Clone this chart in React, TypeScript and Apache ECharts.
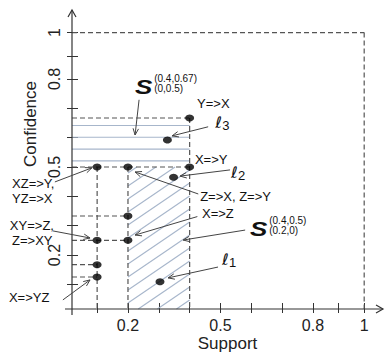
import { useEffect, useRef } from "react";
import * as echarts from "echarts";

// ---- axis extents (as drawn) ----
const X_MIN = 0.0185;
const X_MAX = 1.027;
const Y_MIN = 0.016;
const Y_MAX = 1.035;

// ---- association rules: support / confidence ----
const ruleSupport = [0.1, 0.2, 0.4, 0.4, 0.2, 0.2, 0.1, 0.1, 0.1];
const ruleConfidence = [0.5, 0.5, 0.5, 0.667, 0.333, 0.25, 0.25, 0.167, 0.125];

// ---- illustrative points l1, l2, l3 ----
const lSupport = [0.304, 0.348, 0.328];
const lConfidence = [0.109, 0.465, 0.592];

// ---- ticks & labels ----
const tickValues = [0.1, 0.2, 0.3, 0.4, 0.5, 0.6, 0.7, 0.8, 0.9, 1];
const labelValues = [0.2, 0.5, 0.8, 1];
const BOUND = 1;

// schematic axes: beyond 0.8 the drawn scale is compressed
const X_SQUEEZE = 0.83;
const Y_SQUEEZE = 0.79;
const dispX = (v: number) => (v <= 0.8 ? v : 0.8 + (v - 0.8) * X_SQUEEZE);
const dispY = (v: number) => (v <= 0.8 ? v : 0.8 + (v - 0.8) * Y_SQUEEZE);

// ---- shaded regions (support0, conf0, support1, conf1) ----
const regionFrom = [[0, 0.5], [0.2, 0]];
const regionTo = [[0.4, 0.667], [0.4, 0.5]];
const regionPattern = [0, 1]; // 0 = horizontal lines, 1 = diagonal hatch

// ---- text annotations (support, confidence of left-middle anchor) ----
const labelTexts = ["Y=>X", "X=>Y", "Z=>X, Z=>Y", "X=>Z", "XZ=>Y,", "YZ=>X", "XY=>Z,", "Z=>XY", "X=>YZ"];
const labelS = [0.424, 0.417, 0.434, 0.44, -0.176, -0.176, -0.183, -0.176, -0.186];
const labelC = [0.715, 0.527, 0.401, 0.343, 0.445, 0.394, 0.299, 0.251, 0.054];

// ell symbols
const ellDigits = ["1", "2", "3"];
const ellS = [0.505, 0.534, 0.483];
const ellC = [0.186, 0.48, 0.653];

// S region labels
const sSup = ["(0.4,0.67)", "(0.4,0.5)"];
const sSub = ["(0,0.5)", "(0.2,0)"];
const sS = [0.223, 0.596];
const sC = [0.773, 0.289];

// ---- arrows: from (s,c) to (s,c) ----
const arrowFrom = [
  [0.236, 0.729], [0.46, 0.637], [0.531, 0.49], [-0.037, 0.449], [0.428, 0.408],
  [0.425, 0.331], [-0.043, 0.282], [0.58, 0.285], [0.492, 0.159], [-0.011, 0.047],
];
const arrowTo = [
  [0.223, 0.609], [0.343, 0.606], [0.369, 0.469], [0.083, 0.497], [0.223, 0.483],
  [0.223, 0.268], [0.077, 0.258], [0.379, 0.251], [0.33, 0.122], [0.077, 0.115],
];

const FONT = "'Liberation Sans', Arial, sans-serif";
const DASH_COLOR = "#555";
const HATCH_COLOR = "#a7b6cb";

function buildGuides() {
  // horizontal guide for each confidence up to the largest support; vertical for each support from largest confidence
  const maxSAtC = new Map<number, number>();
  const maxCAtS = new Map<number, number>();
  ruleSupport.forEach((s, i) => {
    const c = ruleConfidence[i];
    maxSAtC.set(c, Math.max(maxSAtC.get(c) ?? -1, s));
    maxCAtS.set(s, Math.max(maxCAtS.get(s) ?? -1, c));
  });
  const segs: number[][] = [];
  maxSAtC.forEach((s, c) => segs.push([X_MIN, c, s, c]));
  maxCAtS.forEach((c, s) => segs.push([s, c, s, Y_MIN]));
  // boundary of the (0,0)-(1,1) square
  segs.push([X_MIN, dispY(BOUND), dispX(BOUND), dispY(BOUND)]);
  segs.push([dispX(BOUND), dispY(BOUND), dispX(BOUND), Y_MIN]);
  return segs;
}

export default function App() {
  const ref = useRef<HTMLDivElement>(null);

  useEffect(() => {
    if (!ref.current) return;
    const chart = echarts.init(ref.current, undefined, { renderer: "svg" });

    const xCustom = tickValues.map(dispX);
    const yCustom = tickValues.map(dispY);
    const xLab = labelValues.map(dispX);
    const yLab = labelValues.map(dispY);
    const fmtX = (v: number) => {
      const i = xLab.findIndex((d) => Math.abs(d - v) < 1e-6);
      return i >= 0 ? String(labelValues[i]) : "";
    };
    const fmtY = (v: number) => {
      const i = yLab.findIndex((d) => Math.abs(d - v) < 1e-6);
      return i >= 0 ? String(labelValues[i]) : "";
    };

    const textItems: any[] = [];
    labelTexts.forEach((t, i) =>
      textItems.push({ value: [labelS[i], labelC[i]], t, size: 13, style: "normal", fam: FONT })
    );
    ellDigits.forEach((d, i) => {
      textItems.push({ value: [ellS[i], ellC[i]], t: "ℓ", size: 16, style: "italic", fam: "'DejaVu Sans', sans-serif" });
      textItems.push({ value: [ellS[i] + 0.023, ellC[i] - 0.01], t: d, size: 13, style: "normal", fam: FONT });
    });
    sSup.forEach((sup, i) => {
      textItems.push({ value: [sS[i], sC[i]], t: "S", size: 20, style: "italic", fam: FONT, scaleX: 1.3, weight: "bold" });
      textItems.push({ value: [sS[i] + 0.062, sC[i] + 0.029], t: sup, size: 10, style: "normal", fam: FONT });
      textItems.push({ value: [sS[i] + 0.062, sC[i] - 0.004], t: sSub[i], size: 10, style: "normal", fam: FONT });
    });

    const axisCommon = {
      type: "value" as const,
      axisLine: { show: false },
      splitLine: { show: false },
    };

    chart.setOption({
      animation: false,
      backgroundColor: "#fff",
      grid: { left: 72, right: 2, top: 10, bottom: 44, containLabel: false, outerBoundsMode: "none" },
      xAxis: [
        {
          ...axisCommon,
          min: X_MIN,
          max: X_MAX,
          position: "bottom",
          name: "Support",
          nameLocation: "middle",
          nameGap: 26,
          nameMoveOverlap: false,
          nameTextStyle: { fontSize: 17, fontFamily: FONT, color: "#222" },
          axisTick: { show: true, length: 4, customValues: xCustom, lineStyle: { color: "#333" } },
          axisLabel: { customValues: xLab, formatter: fmtX, fontSize: 16, fontFamily: FONT, color: "#222", margin: 8 },
        },
        {
          ...axisCommon,
          min: X_MIN,
          max: X_MAX,
          position: "bottom",
          offset: 0,
          axisTick: { show: true, inside: true, length: 6, customValues: xCustom, lineStyle: { color: "#333" } },
          axisLabel: { show: false },
        },
      ],
      yAxis: [
        {
          ...axisCommon,
          min: Y_MIN,
          max: Y_MAX,
          position: "left",
          axisTick: { show: true, length: 5, customValues: yCustom, lineStyle: { color: "#333" } },
          axisLabel: { customValues: yLab, formatter: fmtY, rotate: 90, fontSize: 16, fontFamily: FONT, color: "#222", margin: 10 },
        },
        {
          ...axisCommon,
          min: Y_MIN,
          max: Y_MAX,
          position: "left",
          offset: 0,
          axisTick: { show: true, inside: true, length: 6, customValues: yCustom, lineStyle: { color: "#333" } },
          axisLabel: { show: false },
        },
      ],
      graphic: [
        {
          type: "text",
          x: 30,
          y: 124,
          rotation: Math.PI / 2,
          style: { text: "Confidence", fontSize: 17, fontFamily: FONT, fill: "#222", align: "center", verticalAlign: "middle" },
        },
      ],
      series: [
        // shaded regions
        {
          type: "custom",
          coordinateSystem: "cartesian2d",
          silent: true,
          z: 1,
          data: regionFrom.map((f, i) => [f[0], f[1], regionTo[i][0], regionTo[i][1], regionPattern[i]]),
          renderItem: (_p: any, api: any) => {
            const s0 = Math.max(api.value(0), X_MIN);
            const c0 = Math.max(api.value(1), Y_MIN);
            const s1 = api.value(2);
            const c1 = api.value(3);
            const pat = api.value(4);
            const a = api.coord([s0, c1]);
            const b = api.coord([s1, c0]);
            const x0 = a[0], y0 = a[1], x1 = b[0], y1 = b[1];
            const children: any[] = [];
            const st = { stroke: HATCH_COLOR, lineWidth: 1.1 };
            if (pat === 0) {
              for (let y = y0 + 7.5; y < y1 - 3; y += 11.8) {
                children.push({ type: "line", shape: { x1: x0, y1: y, x2: x1, y2: y }, style: st });
              }
            } else {
              const k = 0.68;
              const w = x1 - x0;
              for (let bb = y0 + 6; bb < y1 + k * w; bb += 13) {
                const xa = Math.max(x0, x0 + (bb - y1) / k);
                const xb = Math.min(x1, x0 + (bb - y0) / k);
                if (xa < xb) {
                  children.push({
                    type: "line",
                    shape: { x1: xa, y1: bb - k * (xa - x0), x2: xb, y2: bb - k * (xb - x0) },
                    style: st,
                  });
                }
              }
            }
            return { type: "group", children };
          },
        },
        // dashed guides
        {
          type: "custom",
          coordinateSystem: "cartesian2d",
          silent: true,
          z: 2,
          data: buildGuides(),
          renderItem: (_p: any, api: any) => {
            const a = api.coord([api.value(0), api.value(1)]);
            const b = api.coord([api.value(2), api.value(3)]);
            return {
              type: "line",
              shape: { x1: a[0], y1: a[1], x2: b[0], y2: b[1] },
              style: { stroke: DASH_COLOR, lineWidth: 1.2, lineDash: [5, 3] },
            };
          },
        },
        // axes frame with open arrowheads
        {
          type: "custom",
          coordinateSystem: "cartesian2d",
          silent: true,
          z: 3,
          data: [[X_MIN, Y_MIN, X_MAX, Y_MAX]],
          renderItem: (_p: any, api: any) => {
            const o = api.coord([api.value(0), api.value(1)]);
            const e = api.coord([api.value(2), api.value(3)]);
            const st = { stroke: "#333", lineWidth: 1.2, fill: "none" };
            return {
              type: "group",
              children: [
                { type: "line", shape: { x1: o[0] - 7, y1: o[1], x2: e[0], y2: o[1] }, style: st },
                { type: "line", shape: { x1: o[0], y1: o[1] + 6, x2: o[0], y2: e[1] }, style: st },
                { type: "polyline", shape: { points: [[e[0] - 7, o[1] - 4], [e[0], o[1]], [e[0] - 7, o[1] + 4]] }, style: st },
                { type: "polyline", shape: { points: [[o[0] - 4, e[1] + 7], [o[0], e[1]], [o[0] + 4, e[1] + 7]] }, style: st },
              ],
            };
          },
        },
        // arrows
        {
          type: "custom",
          coordinateSystem: "cartesian2d",
          silent: true,
          z: 4,
          data: arrowFrom.map((f, i) => [f[0], f[1], arrowTo[i][0], arrowTo[i][1]]),
          renderItem: (_p: any, api: any) => {
            const a = api.coord([api.value(0), api.value(1)]);
            const b = api.coord([api.value(2), api.value(3)]);
            const ang = Math.atan2(b[1] - a[1], b[0] - a[0]);
            const L = 7;
            const sp = 0.4;
            const h1 = [b[0] - L * Math.cos(ang - sp), b[1] - L * Math.sin(ang - sp)];
            const h2 = [b[0] - L * Math.cos(ang + sp), b[1] - L * Math.sin(ang + sp)];
            const st = { stroke: "#444", lineWidth: 1, fill: "none" };
            return {
              type: "group",
              children: [
                { type: "line", shape: { x1: a[0], y1: a[1], x2: b[0], y2: b[1] }, style: st },
                { type: "polyline", shape: { points: [h1, b, h2] }, style: st },
              ],
            };
          },
        },
        // rule points
        {
          type: "scatter",
          z: 5,
          symbol: "circle",
          symbolSize: [9, 7],
          itemStyle: { color: "#000" },
          data: ruleSupport.map((s, i) => [s, ruleConfidence[i]]),
        },
        // illustrative points
        {
          type: "scatter",
          z: 5,
          symbol: "circle",
          symbolSize: [9, 7],
          itemStyle: { color: "#000" },
          data: lSupport.map((s, i) => [s, lConfidence[i]]),
        },
        // annotation texts
        {
          type: "custom",
          coordinateSystem: "cartesian2d",
          silent: true,
          z: 6,
          data: textItems,
          renderItem: (p: any, api: any) => {
            const it = textItems[p.dataIndex];
            const pt = api.coord([api.value(0), api.value(1)]);
            return {
              type: "text",
              x: pt[0],
              y: pt[1],
              scaleX: it.scaleX ?? 1,
              style: {
                text: it.t,
                fontSize: it.size,
                fontStyle: it.style,
                fontWeight: it.weight ?? "normal",
                fontFamily: it.fam,
                fill: "#111",
                align: "left",
                verticalAlign: "middle",
              },
            };
          },
        },
      ],
    });

    return () => chart.dispose();
  }, []);

  return <div ref={ref} style={{ position: "fixed", left: 0, top: 0, width: 385, height: 353 }} />;
}
